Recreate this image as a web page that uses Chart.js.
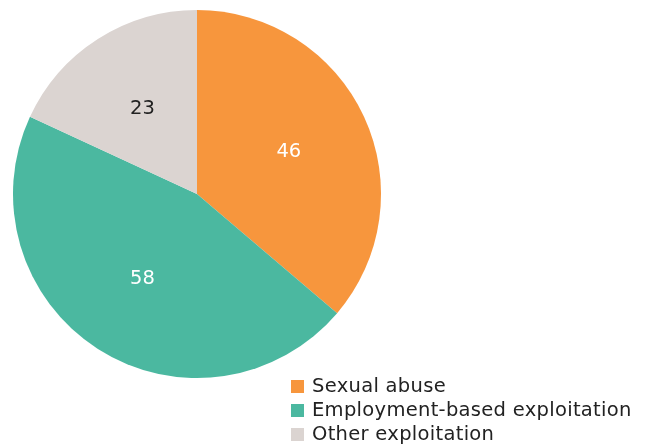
<!DOCTYPE html>
<html>
<head>
<meta charset="utf-8">
<script src="https://cdn.jsdelivr.net/npm/chart.js@4"></script>
<style>
  body { margin: 0; background: #fff; }
  #wrap { position: relative; width: 648px; height: 446px; }
  #legend { position: absolute; left: 291px; top: 374px; font-family: "DejaVu Sans", Verdana, sans-serif; font-size: 19.5px; letter-spacing: 0.3px; color: #222; }
  #legend div { height: 24px; line-height: 24px; white-space: nowrap; }
  #legend span { display: inline-block; width: 13px; height: 13px; margin-right: 8px; vertical-align: -1px; }
</style>
</head>
<body>
<div id="wrap">
  <canvas id="pieChart" width="648" height="446"></canvas>
  <div id="legend"></div>
</div>
<script>
const categories = ["Sexual abuse", "Employment-based exploitation", "Other exploitation"];
const values = [46, 58, 23];
const sliceColors = ["#f7963d", "#4bb8a0", "#dbd4d1"];
const labelColors = ["#ffffff", "#ffffff", "#222222"];

// value labels drawn inside each slice
const sliceLabels = {
    id: "sliceLabels",
    afterDatasetsDraw(chart) {
        const ctx = chart.ctx;
        const meta = chart.getDatasetMeta(0);
        ctx.save();
        ctx.font = "19.5px 'DejaVu Sans', Verdana, sans-serif";
        ctx.textAlign = "center";
        ctx.textBaseline = "middle";
        meta.data.forEach((arc, i) => {
            const mid = (arc.startAngle + arc.endAngle) / 2;
            const r = arc.outerRadius * 0.55;
            ctx.fillStyle = labelColors[i];
            ctx.fillText(values[i], arc.x + Math.cos(mid) * r, arc.y + Math.sin(mid) * r);
        });
        ctx.restore();
    }
};

new Chart(document.getElementById("pieChart"), {
    type: "pie",
    data: {
        labels: categories,
        datasets: [{
            data: values,
            backgroundColor: sliceColors,
            borderWidth: 0
        }]
    },
    options: {
        responsive: false,
        animation: false,
        layout: { padding: { left: 13, top: 10, right: 267, bottom: 68 } },
        plugins: {
            legend: { display: false },
            tooltip: { enabled: false }
        }
    },
    plugins: [sliceLabels]
});

const legend = document.getElementById("legend");
categories.forEach((name, i) => {
    const row = document.createElement("div");
    const box = document.createElement("span");
    box.style.background = sliceColors[i];
    row.appendChild(box);
    row.appendChild(document.createTextNode(name));
    legend.appendChild(row);
});
</script>
</body>
</html>
